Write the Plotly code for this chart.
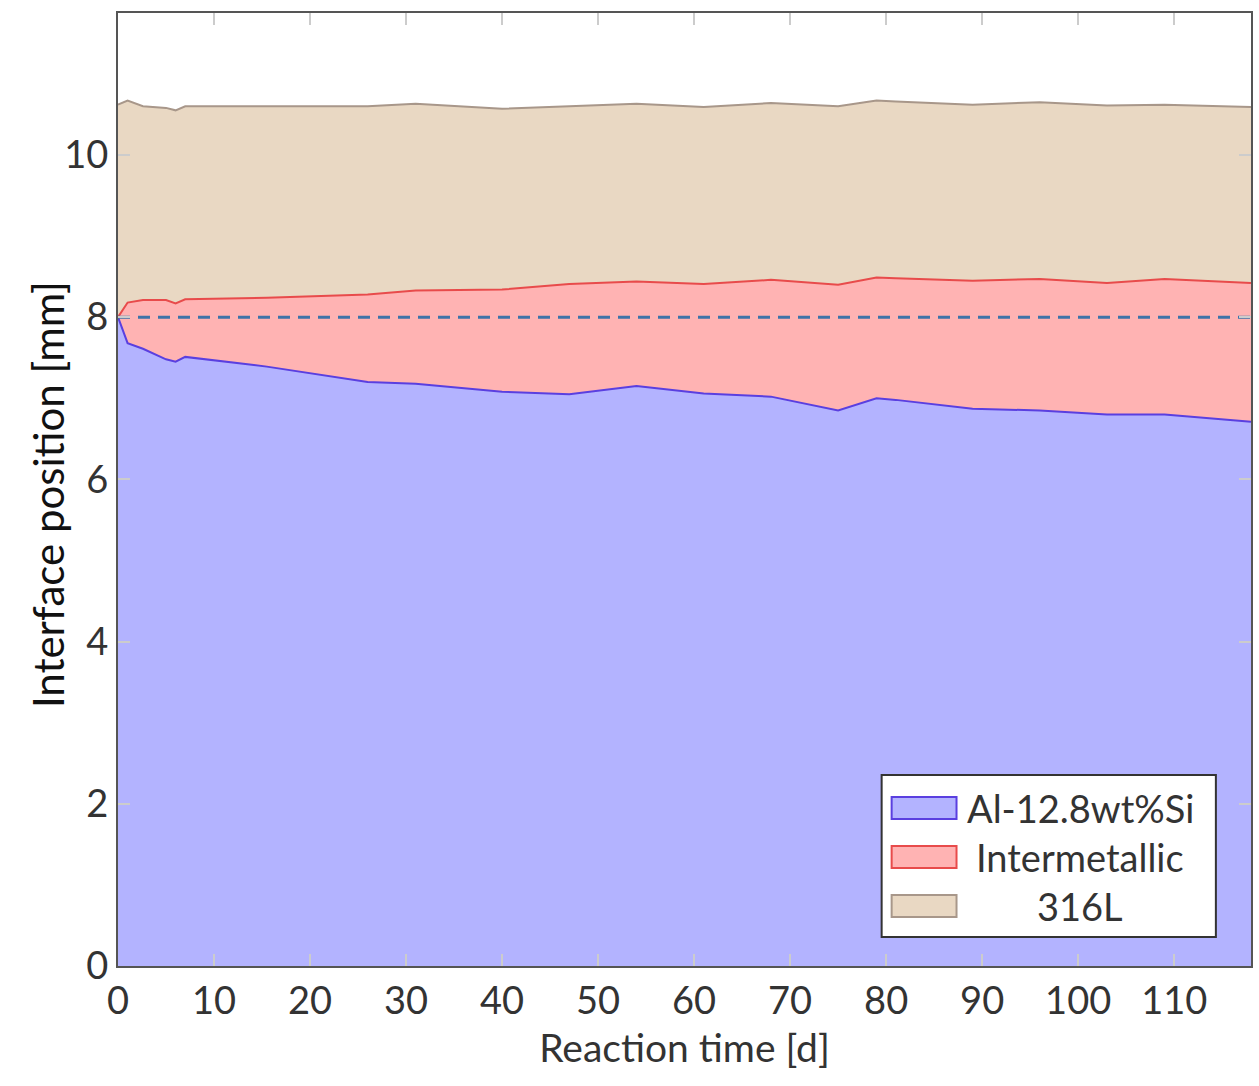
import plotly.graph_objects as go

# Reaction time [d]
time_d = [0, 1, 2.6, 5, 6, 7, 15.5, 26, 31, 40, 47, 54, 61, 68, 75, 79, 81, 89, 96, 103, 109, 118]
# Upper boundary of Al-12.8wt%Si [mm]
al_si_top = [8.0, 7.68, 7.61, 7.48, 7.45, 7.51, 7.39, 7.20, 7.18, 7.08, 7.05, 7.15, 7.06, 7.02, 6.85, 7.00, 6.98, 6.87, 6.85, 6.80, 6.80, 6.71]
# Upper boundary of intermetallic layer [mm]
intermetallic_top = [8.0, 8.18, 8.21, 8.21, 8.17, 8.22, 8.24, 8.28, 8.33, 8.34, 8.41, 8.44, 8.41, 8.46, 8.40, 8.49, 8.48, 8.45, 8.47, 8.42, 8.47, 8.42]
# Upper boundary of 316L [mm]
steel_top = [10.62, 10.67, 10.60, 10.58, 10.55, 10.60, 10.60, 10.60, 10.63, 10.57, 10.60, 10.63, 10.59, 10.64, 10.60, 10.67, 10.66, 10.62, 10.65, 10.61, 10.62, 10.59]
initial_interface = 8.0

series_names = ["Al-12.8wt%Si", "Intermetallic", "316L"]
fill_colors = ["#b3b3ff", "#ffb3b3", "#e9d8c3"]
line_colors = ["#5a3fe0", "#e84b4b", "#a8978a"]

FONT = "Lato"
TXT = "#333333"
FS = 38

fig = go.Figure()
fig.add_trace(go.Scatter(x=time_d, y=al_si_top, mode="lines", fill="tozeroy",
                         fillcolor=fill_colors[0], line=dict(color=line_colors[0], width=2),
                         name=series_names[0], showlegend=False))
fig.add_trace(go.Scatter(x=time_d, y=intermetallic_top, mode="lines", fill="tonexty",
                         fillcolor=fill_colors[1], line=dict(color=line_colors[1], width=2),
                         name=series_names[1], showlegend=False))
fig.add_trace(go.Scatter(x=time_d, y=steel_top, mode="lines", fill="tonexty",
                         fillcolor=fill_colors[2], line=dict(color=line_colors[2], width=2),
                         name=series_names[2], showlegend=False))
fig.add_trace(go.Scatter(x=[time_d[0], time_d[-1]], y=[initial_interface, initial_interface],
                         mode="lines", line=dict(color="#3f73a8", width=3, dash="12px,8px"),
                         showlegend=False, hoverinfo="skip"))

# Manual legend (pgfplots style box)
shapes = [dict(type="rect", xref="paper", yref="paper", x0=0.674, x1=0.969, y0=0.0304, y1=0.2004,
               fillcolor="white", line=dict(color="#333333", width=2), layer="above")]
annotations = []
legend_y_px = [808, 857, 906]
for name, fc, lc, ypx in zip(series_names, fill_colors, line_colors, legend_y_px):
    yc = (966 - ypx) / 953
    shapes.append(dict(type="rect", xref="paper", yref="paper",
                       x0=(893 - 118) / 1135, x1=(958 - 118) / 1135,
                       y0=yc - 11 / 953, y1=yc + 11 / 953,
                       fillcolor=fc, line=dict(color=lc, width=2), layer="above"))
    annotations.append(dict(xref="paper", yref="paper", x=(1082 - 118) / 1135, y=yc,
                            text=name, showarrow=False, xanchor="center", yanchor="middle",
                            font=dict(family=FONT, size=FS, color=TXT)))

# y-axis title placed as in the reference
annotations.append(dict(xref="paper", yref="paper", x=(48 - 118) / 1135, y=(966 - 495) / 953,
                        text="Interface position [mm]", textangle=-90, showarrow=False,
                        xanchor="center", yanchor="middle",
                        font=dict(family=FONT, size=42, color="#111111")))

fig.update_layout(
    width=1259, height=1086,
    margin=dict(l=118, r=6, t=13, b=120),
    plot_bgcolor="white", paper_bgcolor="white",
    font=dict(family=FONT, size=FS, color=TXT),
    shapes=shapes, annotations=annotations,
    showlegend=False,
)
fig.update_xaxes(range=[0, 118], tickvals=list(range(0, 111, 10)),
                 ticks="inside", ticklen=12, tickcolor="#cccccc", tickwidth=1.5,
                 showline=True, linecolor="#555555", linewidth=2, mirror="ticks",
                 showgrid=False, zeroline=False,
                 tickfont=dict(family=FONT, size=FS, color=TXT),
                 title=dict(text="Reaction time [d]", font=dict(family=FONT, size=39, color=TXT), standoff=14))
fig.update_yaxes(range=[0, 11.75], tickvals=[0, 2, 4, 6, 8, 10],
                 ticks="inside", ticklen=12, tickcolor="#cccccc", tickwidth=1.5,
                 showline=True, linecolor="#555555", linewidth=2, mirror="ticks",
                 showgrid=False, zeroline=False,
                 tickfont=dict(family=FONT, size=FS, color=TXT))

fig.write_html("out.html")
